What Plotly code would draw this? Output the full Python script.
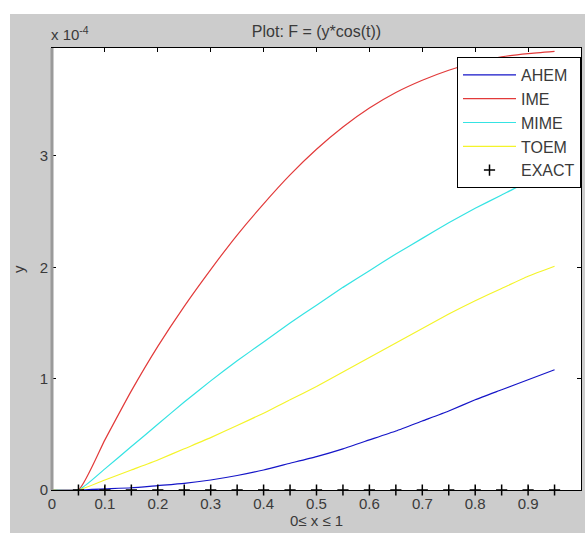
import plotly.graph_objects as go

# ---- data (y values in units of 1e-4) ----
x_line = [0.0, 0.05, 0.1, 0.15, 0.2, 0.25, 0.3, 0.35, 0.4, 0.45, 0.5,
          0.55, 0.6, 0.65, 0.7, 0.75, 0.8, 0.85, 0.9, 0.95]
ahem = [0, 0, 0.01, 0.02, 0.04, 0.06, 0.09, 0.13, 0.18, 0.24, 0.30,
        0.37, 0.45, 0.53, 0.62, 0.71, 0.81, 0.90, 0.99, 1.08]
ime = [0, 0, 0.45, 0.89, 1.29, 1.65, 1.98, 2.29, 2.57, 2.83, 3.06,
       3.26, 3.43, 3.57, 3.68, 3.77, 3.84, 3.89, 3.92, 3.94]
mime = [0, 0, 0.19, 0.39, 0.59, 0.79, 0.98, 1.16, 1.33, 1.50, 1.66,
        1.82, 1.97, 2.12, 2.26, 2.40, 2.53, 2.65, 2.77, 2.88]
toem = [0, 0, 0.09, 0.18, 0.27, 0.37, 0.47, 0.58, 0.69, 0.81, 0.93,
        1.06, 1.19, 1.32, 1.45, 1.58, 1.70, 1.81, 1.92, 2.01]
x_exact = [0.05, 0.1, 0.15, 0.2, 0.25, 0.3, 0.35, 0.4, 0.45, 0.5,
           0.55, 0.6, 0.65, 0.7, 0.75, 0.8, 0.85, 0.9, 0.95]
exact = [0] * len(x_exact)
scale = 1e-4

x_ticks = [0, 0.1, 0.2, 0.3, 0.4, 0.5, 0.6, 0.7, 0.8, 0.9, 1]
x_ticktext = ["0", "0.1", "0.2", "0.3", "0.4", "0.5", "0.6", "0.7", "0.8", "0.9", "1"]
y_ticks = [0, 1, 2, 3]
y_ticktext = ["0", "1", "2", "3"]

series = [("AHEM", ahem, "#1515c8"), ("IME", ime, "#e23a3a"),
          ("MIME", mime, "#35e3e3"), ("TOEM", toem, "#f4f42a")]

fig = go.Figure()
for name, vals, col in series:
    fig.add_trace(go.Scatter(
        x=x_line, y=[v * scale for v in vals], mode="lines", name=name,
        legendgroup=name, line=dict(color=col, width=1.2, shape="spline", smoothing=0.5)))
fig.add_trace(go.Scatter(
    x=x_exact, y=[v * scale for v in exact], mode="markers", name="EXACT",
    legendgroup="EXACT", cliponaxis=False,
    marker=dict(symbol="cross-thin", size=8, line=dict(color="black", width=1.5))))

W, H = 585, 533
L, R, T, B = 52, 4, 48, 43
pw, ph = W - L - R, H - T - B
font = "Liberation Sans, Arial, sans-serif"
tickcol = "#3a3a3a"

fig.update_layout(
    width=W, height=H, autosize=False,
    margin=dict(l=L, r=R, t=T, b=B),
    paper_bgcolor="#cccccc", plot_bgcolor="white",
    font=dict(family=font, size=15, color=tickcol),
    title=dict(text="Plot: F = (y*cos(t))", x=(L + pw / 2) / W, xanchor="center",
               y=1 - 31 / H, yanchor="middle", font=dict(size=16, color=tickcol)),
    xaxis=dict(range=[0, 1], tickvals=x_ticks, ticktext=x_ticktext,
               ticks="inside", ticklen=4, tickcolor="black", showgrid=False, zeroline=False,
               showline=True, linecolor="black", linewidth=1, mirror="ticks",
               tickfont=dict(size=15, color=tickcol)),
    yaxis=dict(range=[0, 3.97e-4], tickvals=[v * scale for v in y_ticks], ticktext=y_ticktext,
               ticks="inside", ticklen=4, tickcolor="black", showgrid=False, zeroline=False,
               showline=True, linecolor="black", linewidth=1, mirror="ticks",
               tickfont=dict(size=15, color=tickcol)),
    legend=dict(x=(457 - L) / pw, y=(H - B - 57) / ph,
                xanchor="left", yanchor="top", bgcolor="white",
                bordercolor="black", borderwidth=1, tracegroupgap=0,
                itemwidth=53, font=dict(size=16, color=tickcol)),
    showlegend=True,
)

# white strips outside the grey figure (top and left)
fig.add_shape(type="rect", xref="paper", yref="paper",
              x0=-L / pw, x1=(W - L) / pw, y0=(H - B - 14) / ph, y1=(H - B) / ph,
              fillcolor="white", line_width=0, layer="below")
fig.add_shape(type="rect", xref="paper", yref="paper",
              x0=-L / pw, x1=(10 - L) / pw, y0=-B / ph, y1=(H - B) / ph,
              fillcolor="white", line_width=0, layer="below")
# grey left axis band
fig.add_shape(type="line", xref="paper", yref="paper", x0=0, x1=0, y0=0, y1=1,
              line=dict(color="#9a9a9a", width=3), layer="above")

fig.add_annotation(text="x 10<sup>-4</sup>", xref="paper", yref="paper",
                   x=0, y=1, xanchor="left", yanchor="bottom", xshift=-3, yshift=3,
                   showarrow=False, font=dict(size=15, color=tickcol))
fig.add_annotation(text="0≤ x ≤ 1", xref="paper", yref="paper",
                   x=0.5, y=0, xanchor="center", yanchor="middle", yshift=-30,
                   showarrow=False, font=dict(size=15, color=tickcol))
fig.add_annotation(text="y", xref="paper", yref="paper", textangle=-90,
                   x=0, y=0.5, xanchor="center", yanchor="middle", xshift=-34,
                   showarrow=False, font=dict(size=15, color=tickcol))

fig.write_html("out.html", config={"responsive": False, "displayModeBar": False},
               post_script="document.body.style.margin='0';document.body.style.overflow='hidden';")
